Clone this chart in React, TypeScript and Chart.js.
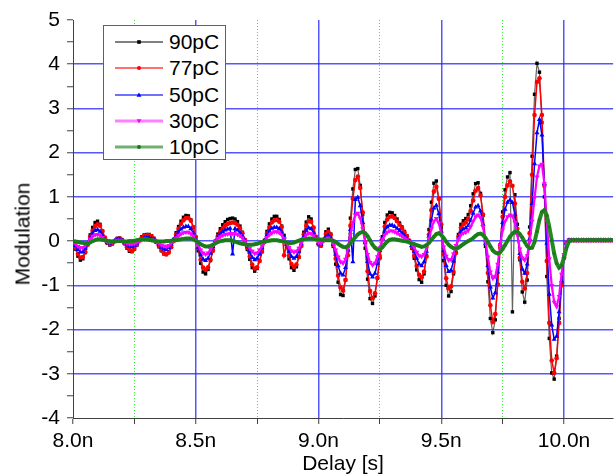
import React, { useEffect, useRef } from 'react';
import { Chart, registerables } from 'chart.js';

Chart.register(...registerables);

// Delay in ns (x axis)
const delayNs: number[] = [
  8.00, 8.01, 8.02, 8.03, 8.04, 8.05, 8.06, 8.07, 8.08, 8.09,
  8.10, 8.11, 8.12, 8.13, 8.14, 8.15, 8.16, 8.17, 8.18, 8.19,
  8.20, 8.21, 8.22, 8.23, 8.24, 8.25, 8.26, 8.27, 8.28, 8.29,
  8.30, 8.31, 8.32, 8.33, 8.34, 8.35, 8.36, 8.37, 8.38, 8.39,
  8.40, 8.41, 8.42, 8.43, 8.44, 8.45, 8.46, 8.47, 8.48, 8.49,
  8.50, 8.51, 8.52, 8.53, 8.54, 8.55, 8.56, 8.57, 8.58, 8.59,
  8.60, 8.61, 8.62, 8.63, 8.64, 8.65, 8.66, 8.67, 8.68, 8.69,
  8.70, 8.71, 8.72, 8.73, 8.74, 8.75, 8.76, 8.77, 8.78, 8.79,
  8.80, 8.81, 8.82, 8.83, 8.84, 8.85, 8.86, 8.87, 8.88, 8.89,
  8.90, 8.91, 8.92, 8.93, 8.94, 8.95, 8.96, 8.97, 8.98, 8.99,
  9.00, 9.01, 9.02, 9.03, 9.04, 9.05, 9.06, 9.07, 9.08, 9.09,
  9.10, 9.11, 9.12, 9.13, 9.14, 9.15, 9.16, 9.17, 9.18, 9.19,
  9.20, 9.21, 9.22, 9.23, 9.24, 9.25, 9.26, 9.27, 9.28, 9.29,
  9.30, 9.31, 9.32, 9.33, 9.34, 9.35, 9.36, 9.37, 9.38, 9.39,
  9.40, 9.41, 9.42, 9.43, 9.44, 9.45, 9.46, 9.47, 9.48, 9.49,
  9.50, 9.51, 9.52, 9.53, 9.54, 9.55, 9.56, 9.57, 9.58, 9.59,
  9.60, 9.61, 9.62, 9.63, 9.64, 9.65, 9.66, 9.67, 9.68, 9.69,
  9.70, 9.71, 9.72, 9.73, 9.74, 9.75, 9.76, 9.77, 9.78, 9.79,
  9.80, 9.81, 9.82, 9.83, 9.84, 9.85, 9.86, 9.87, 9.88, 9.89,
  9.90, 9.91, 9.92, 9.93, 9.94, 9.95, 9.96, 9.97, 9.98, 9.99,
  10.00, 10.01, 10.02, 10.03, 10.04, 10.05, 10.06, 10.07, 10.08, 10.09,
  10.10, 10.11, 10.12, 10.13, 10.14, 10.15, 10.16, 10.17, 10.18, 10.19,
  10.20,
];

const mod90pC: number[] = [
  -0.05, -0.18, -0.34, -0.43, -0.40, -0.26, -0.06, 0.14, 0.31, 0.42,
  0.45, 0.38, 0.22, 0.06, -0.05, -0.09, -0.06, 0.01, 0.06, 0.07,
  0.03, -0.06, -0.16, -0.23, -0.24, -0.18, -0.08, 0.03, 0.10, 0.14,
  0.15, 0.15, 0.12, 0.06, -0.03, -0.13, -0.22, -0.29, -0.30, -0.24,
  -0.11, 0.04, 0.19, 0.33, 0.45, 0.54, 0.58, 0.57, 0.48, 0.31,
  0.07, -0.22, -0.50, -0.70, -0.74, -0.64, -0.44, -0.21, 0.00, 0.16,
  0.28, 0.37, 0.44, 0.49, 0.51, 0.52, 0.50, 0.44, 0.34, 0.20,
  0.02, -0.19, -0.41, -0.60, -0.68, -0.62, -0.45, -0.22, 0.02, 0.22,
  0.39, 0.50, 0.56, 0.56, 0.49, 0.34, 0.13, -0.13, -0.40, -0.60,
  -0.66, -0.58, -0.37, -0.09, 0.20, 0.43, 0.55, 0.50, 0.31, 0.08,
  -0.08, -0.11, 0.04, 0.21, 0.27, 0.16, -0.12, -0.52, -0.93, -1.21,
  -1.23, -0.88, -0.22, 0.52, 1.18, 1.62, 1.64, 1.26, 0.60, -0.16,
  -0.86, -1.30, -1.41, -1.24, -0.84, -0.34, 0.10, 0.42, 0.59, 0.65,
  0.64, 0.58, 0.50, 0.41, 0.32, 0.22, 0.12, 0.00, -0.16, -0.39,
  -0.65, -0.87, -0.93, -0.74, -0.33, 0.26, 0.88, 1.31, 1.36, 0.96,
  0.30, -0.44, -1.00, -1.24, -1.14, -0.74, -0.25, 0.15, 0.38, 0.46,
  0.51, 0.60, 0.80, 1.07, 1.30, 1.32, 1.08, 0.58, -0.12, -0.92,
  -1.75, -2.07, -1.78, -0.98, -0.08, 0.66, 1.16, 1.45, 1.55, -1.60,
  1.05, 0.38, -0.42, -1.15, -1.38, -0.88, 0.32, 1.92, 3.32, 4.02,
  3.82, 2.68, 1.00, -0.80, -2.20, -2.98, -3.12, -2.60, -1.75, -0.95,
  -0.35, -0.04, 0.02, 0.02, 0.02, 0.02, 0.02, 0.02, 0.02, 0.02,
  0.02, 0.02, 0.02, 0.02, 0.02, 0.02, 0.02, 0.02, 0.02, 0.02,
  0.02,
];

const mod77pC: number[] = [
  -0.04, -0.15, -0.29, -0.37, -0.36, -0.25, -0.08, 0.10, 0.24, 0.34,
  0.38, 0.35, 0.23, 0.08, -0.03, -0.07, -0.06, 0.00, 0.05, 0.06,
  0.03, -0.05, -0.14, -0.20, -0.22, -0.18, -0.09, 0.01, 0.08, 0.12,
  0.13, 0.13, 0.11, 0.06, -0.02, -0.11, -0.20, -0.27, -0.30, -0.26,
  -0.14, 0.00, 0.15, 0.28, 0.39, 0.47, 0.52, 0.52, 0.46, 0.32,
  0.10, -0.16, -0.42, -0.60, -0.65, -0.59, -0.42, -0.22, -0.03, 0.11,
  0.21, 0.29, 0.35, 0.39, 0.41, 0.42, 0.41, 0.37, 0.29, 0.18,
  0.03, -0.15, -0.35, -0.53, -0.62, -0.59, -0.45, -0.24, -0.02, 0.17,
  0.32, 0.42, 0.47, 0.48, 0.44, 0.32, -0.32, -0.09, -0.33, -0.52,
  -0.58, -0.53, -0.36, -0.11, 0.15, 0.35, 0.45, 0.44, 0.30, 0.10,
  -0.06, -0.10, 0.02, 0.16, 0.21, 0.14, -0.08, -0.40, -0.78, -1.05,
  -1.12, -0.88, -0.32, 0.35, 0.96, 1.38, 1.46, 1.20, 0.65, -0.02,
  -0.68, -1.13, -1.29, -1.18, -0.83, -0.38, 0.04, 0.33, 0.49, 0.55,
  0.56, 0.52, 0.45, 0.37, 0.29, 0.20, 0.11, 0.01, -0.13, -0.33,
  -0.56, -0.76, -0.82, -0.69, -0.35, 0.15, 0.70, 1.12, 1.23, 0.96,
  0.38, -0.30, -0.84, -1.07, -1.02, -0.70, -0.27, 0.10, 0.30, 0.38,
  0.42, 0.50, 0.68, 0.92, 1.14, 1.20, 1.03, 0.60, 0.00, -0.72,
  -1.45, -1.83, -1.65, -0.98, -0.15, 0.55, 1.00, 1.26, 1.35, 1.25,
  0.85, 0.28, -0.38, -0.92, -1.07, -0.72, 0.18, 1.50, 2.85, 3.60,
  3.68, 2.85, 1.25, -0.45, -1.85, -2.70, -2.98, -2.65, -1.85, -1.00,
  -0.38, -0.05, 0.02, 0.02, 0.02, 0.02, 0.02, 0.02, 0.02, 0.02,
  0.02, 0.02, 0.02, 0.02, 0.02, 0.02, 0.02, 0.02, 0.02, 0.02,
  0.02,
];

const mod50pC: number[] = [
  -0.02, -0.10, -0.19, -0.25, -0.24, -0.16, -0.04, 0.08, 0.18, 0.24,
  0.26, 0.22, 0.13, 0.03, -0.03, -0.05, -0.03, 0.01, 0.04, 0.04,
  0.01, -0.04, -0.09, -0.12, -0.13, -0.10, -0.05, 0.01, 0.05, 0.07,
  0.08, 0.08, 0.06, 0.03, -0.02, -0.08, -0.14, -0.18, -0.19, -0.15,
  -0.07, 0.03, 0.12, 0.20, 0.27, 0.31, 0.33, 0.33, 0.28, 0.18,
  0.04, -0.14, -0.31, -0.41, -0.44, -0.39, -0.27, -0.13, 0.00, 0.09,
  0.16, 0.21, 0.25, 0.27, 0.29, -0.29, 0.28, 0.25, 0.19, 0.11,
  0.01, -0.11, -0.25, -0.37, -0.42, -0.39, -0.29, -0.15, 0.00, 0.13,
  0.23, 0.29, 0.31, 0.31, 0.28, 0.20, 0.08, -0.07, -0.23, -0.35,
  -0.39, -0.35, -0.23, -0.06, 0.11, 0.24, 0.30, 0.28, 0.18, 0.05,
  -0.05, -0.07, 0.02, 0.10, 0.13, 0.08, -0.07, -0.30, -0.56, -0.73,
  -0.77, -0.60, -0.20, 0.26, -0.47, 0.94, 0.99, 0.80, 0.42, -0.04,
  -0.46, -0.74, -0.81, -0.73, -0.50, -0.21, 0.06, 0.23, 0.32, 0.36,
  0.36, 0.33, 0.29, 0.24, 0.18, 0.12, 0.06, -0.01, -0.10, -0.23,
  -0.39, -0.52, -0.56, -0.47, -0.23, 0.11, 0.48, 0.75, 0.81, 0.62,
  0.22, -0.22, -0.55, -0.69, -0.66, -0.45, -0.16, 0.07, 0.21, 0.27,
  0.30, 0.35, 0.47, 0.63, 0.77, 0.80, 0.68, 0.38, -0.05, -0.55,
  -1.04, -1.29, -1.17, -0.70, -0.08, 0.42, 0.72, 0.88, 0.93, 0.87,
  0.60, 0.18, -0.28, -0.63, -0.73, -0.52, 0.05, 0.85, 1.75, 2.45,
  2.75, 2.40, 1.30, -0.05, -1.20, -1.90, -2.22, -2.15, -1.60, -0.90,
  -0.35, -0.05, 0.02, 0.02, 0.02, 0.02, 0.02, 0.02, 0.02, 0.02,
  0.02, 0.02, 0.02, 0.02, 0.02, 0.02, 0.02, 0.02, 0.02, 0.02,
  0.02,
];

const mod30pC: number[] = [
  -0.01, -0.06, -0.12, -0.15, -0.15, -0.10, -0.03, 0.05, 0.11, 0.14,
  0.15, 0.13, 0.08, 0.02, -0.02, -0.03, -0.02, 0.00, 0.02, 0.02,
  0.00, -0.03, -0.05, -0.07, -0.07, -0.06, -0.03, 0.00, 0.03, 0.04,
  0.04, 0.04, 0.03, 0.01, -0.02, -0.05, -0.09, -0.11, -0.12, -0.10,
  -0.05, 0.01, 0.07, 0.12, 0.16, 0.19, 0.20, 0.20, 0.17, 0.11,
  0.02, -0.09, -0.20, -0.27, -0.30, -0.27, -0.19, -0.09, 0.00, 0.06,
  0.10, 0.13, 0.15, 0.16, 0.17, 0.17, 0.17, 0.15, 0.12, 0.07,
  0.00, -0.08, -0.16, -0.23, -0.28, -0.27, -0.20, -0.11, -0.01, 0.08,
  0.14, 0.18, 0.21, 0.21, 0.19, 0.14, 0.06, -0.04, -0.14, -0.22,
  -0.25, -0.23, -0.16, -0.05, 0.06, 0.14, 0.18, 0.17, 0.12, 0.04,
  -0.03, -0.05, 0.00, 0.05, 0.07, 0.04, -0.05, -0.20, -0.36, -0.47,
  -0.50, -0.41, -0.16, 0.15, 0.42, 0.59, 0.63, 0.52, 0.28, -0.02,
  -0.30, -0.48, -0.54, -0.50, -0.35, -0.15, 0.03, 0.14, 0.20, 0.23,
  0.23, 0.21, 0.18, 0.15, 0.11, 0.07, 0.03, -0.01, -0.07, -0.15,
  -0.25, -0.33, -0.35, -0.30, -0.16, 0.05, 0.28, 0.45, 0.51, 0.41,
  0.16, -0.13, -0.34, -0.43, -0.42, -0.29, -0.10, 0.05, 0.14, 0.18,
  0.20, 0.24, 0.33, 0.45, 0.55, 0.59, 0.53, 0.32, 0.00, -0.36,
  -0.70, -0.84, -0.80, -0.52, -0.10, 0.25, 0.45, 0.55, 0.59, 0.57,
  0.42, 0.14, -0.18, -0.38, -0.43, -0.33, -0.02, 0.45, 0.98, 1.45,
  1.70, 1.74, 1.30, 0.45, -0.40, -1.00, -1.38, -1.48, -1.25, -0.75,
  -0.30, -0.05, 0.02, 0.02, 0.02, 0.02, 0.02, 0.02, 0.02, 0.02,
  0.02, 0.02, 0.02, 0.02, 0.02, 0.02, 0.02, 0.02, 0.02, 0.02,
  0.02,
];

const mod10pC: number[] = [
  0.00, -0.01, -0.02, -0.03, -0.04, -0.05, -0.05, -0.03, 0.00, 0.02,
  0.04, 0.04, 0.03, 0.02, 0.01, 0.00, -0.01, -0.01, 0.00, 0.00,
  0.00, -0.01, -0.01, 0.00, 0.00, 0.01, 0.02, 0.03, 0.04, 0.04,
  0.04, 0.03, 0.02, 0.01, 0.00, -0.01, -0.01, -0.01, 0.00, 0.00,
  0.01, 0.02, 0.02, 0.03, 0.04, 0.05, 0.06, 0.06, 0.06, 0.04,
  0.01, -0.03, -0.07, -0.10, -0.12, -0.12, -0.11, -0.08, -0.05, -0.02,
  0.00, 0.01, 0.02, 0.02, 0.02, 0.01, -0.01, -0.03, -0.05, -0.06,
  -0.07, -0.08, -0.08, -0.08, -0.07, -0.06, -0.04, -0.02, -0.01, 0.00,
  0.01, 0.02, 0.02, 0.02, 0.01, 0.00, -0.01, -0.03, -0.04, -0.04,
  -0.03, -0.01, 0.01, 0.03, 0.04, 0.05, 0.06, 0.06, 0.05, 0.05,
  0.04, 0.03, 0.02, 0.02, 0.02, 0.02, 0.01, -0.02, -0.06, -0.10,
  -0.13, -0.14, -0.11, -0.05, 0.02, 0.09, 0.15, 0.19, 0.21, 0.18,
  0.11, 0.02, -0.08, -0.15, -0.19, -0.19, -0.14, -0.07, -0.01, 0.03,
  0.04, 0.04, 0.03, 0.02, 0.01, 0.00, -0.01, -0.03, -0.05, -0.07,
  -0.09, -0.11, -0.13, -0.12, -0.09, -0.04, 0.03, 0.10, 0.16, 0.18,
  0.14, 0.07, -0.01, -0.08, -0.13, -0.16, -0.17, -0.15, -0.11, -0.07,
  -0.03, 0.00, 0.03, 0.07, 0.12, 0.16, 0.17, 0.14, 0.07, -0.02,
  -0.12, -0.21, -0.26, -0.28, -0.25, -0.18, -0.09, 0.01, 0.10, 0.17,
  0.21, 0.21, 0.16, 0.08, -0.02, -0.11, -0.16, -0.15, -0.02, 0.22,
  0.48, 0.66, 0.70, 0.58, 0.32, 0.02, -0.28, -0.50, -0.60, -0.55,
  -0.38, -0.15, -0.01, 0.02, 0.02, 0.02, 0.02, 0.02, 0.02, 0.02,
  0.02, 0.02, 0.02, 0.02, 0.02, 0.02, 0.02, 0.02, 0.02, 0.02,
  0.02,
];

const seriesLabels: string[] = ['90pC', '77pC', '50pC', '30pC', '10pC'];
const seriesValues: number[][] = [mod90pC, mod77pC, mod50pC, mod30pC, mod10pC];

const xMajorTicks: number[] = [8.0, 8.5, 9.0, 9.5, 10.0];
const xMinorTicks: number[] = [8.25, 8.75, 9.25, 9.75];
const yMajorTicks: number[] = [-4, -3, -2, -1, 0, 1, 2, 3, 4, 5];
const yMinorTicks: number[] = [-3.5, -2.5, -1.5, -0.5, 0.5, 1.5, 2.5, 3.5, 4.5];

const xTitle = 'Delay [s]';
const yTitle = 'Modulation';

const X_MIN = 8.0;
const X_MAX = 10.2;
const Y_MIN = -4;
const Y_MAX = 5;

const FONT = '"Liberation Sans", Arial, Helvetica, sans-serif';
const FONT_SIZE = 21;
const AXIS_COLOR = '#404040';
const GRID_BLUE = 'rgba(30,30,255,0.75)';
const GRID_GREEN = '#30ee30';

type SeriesStyle = {
  line: string;
  lineWidth: number;
  point: string;
  pointStyle: string;
  pointRadius: number;
  rotation: number;
  legendLine: string;
  legendLineWidth: number;
};

const styles: SeriesStyle[] = [
  { line: 'rgba(70,70,70,0.85)', lineWidth: 1.2, point: '#000000', pointStyle: 'rect', pointRadius: 2.4, rotation: 0, legendLine: '#808080', legendLineWidth: 2 },
  { line: '#ff0000', lineWidth: 1.5, point: '#ff0000', pointStyle: 'circle', pointRadius: 2.3, rotation: 0, legendLine: '#ff4040', legendLineWidth: 1.5 },
  { line: '#0000ff', lineWidth: 1.5, point: '#0000ff', pointStyle: 'triangle', pointRadius: 2.9, rotation: 0, legendLine: '#4040ff', legendLineWidth: 1.5 },
  { line: '#ff00ff', lineWidth: 2.2, point: '#ff00ff', pointStyle: 'triangle', pointRadius: 2.9, rotation: 180, legendLine: '#ff80ff', legendLineWidth: 3 },
  { line: '#228b22', lineWidth: 4, point: '#1b7a1b', pointStyle: 'circle', pointRadius: 1.7, rotation: 0, legendLine: '#70b070', legendLineWidth: 3 },
];

function LegendMarker({ idx }: { idx: number }) {
  const s = styles[idx];
  const cx = 24;
  const cy = 6;
  let marker: React.ReactNode = null;
  if (idx === 0) marker = <rect x={cx - 1.8} y={cy - 1.8} width={3.6} height={3.6} fill={s.point} />;
  else if (idx === 1) marker = <circle cx={cx} cy={cy} r={2} fill={s.point} />;
  else if (idx === 2) marker = <polygon points={`${cx},${cy - 2.4} ${cx + 2.4},${cy + 1.8} ${cx - 2.4},${cy + 1.8}`} fill={s.point} />;
  else if (idx === 3) marker = <polygon points={`${cx},${cy + 2.4} ${cx + 2.4},${cy - 1.8} ${cx - 2.4},${cy - 1.8}`} fill={s.point} />;
  else marker = <circle cx={cx} cy={cy} r={2} fill={s.point} />;
  return (
    <svg width={48} height={12} style={{ display: 'block' }}>
      <line x1={0} y1={cy} x2={48} y2={cy} stroke={s.legendLine} strokeWidth={s.legendLineWidth} />
      {marker}
    </svg>
  );
}

function Legend() {
  return (
    <div
      style={{
        position: 'absolute',
        left: 103,
        top: 25,
        width: 123,
        height: 135,
        boxSizing: 'border-box',
        border: '1px solid #606060',
        background: '#ffffff',
        fontFamily: FONT,
      }}
    >
      {seriesLabels.map((label, i) => (
        <div
          key={label}
          style={{
            position: 'absolute',
            left: 11,
            top: 16 + i * 26.3 - 13,
            height: 26,
            display: 'flex',
            alignItems: 'center',
          }}
        >
          <LegendMarker idx={i} />
          <span style={{ marginLeft: 6, fontSize: FONT_SIZE, color: '#000', lineHeight: '26px', whiteSpace: 'nowrap' }}>{label}</span>
        </div>
      ))}
    </div>
  );
}

export default function App() {
  const canvasRef = useRef<HTMLCanvasElement>(null);

  useEffect(() => {
    const canvas = canvasRef.current;
    if (!canvas) return;

    const datasets = seriesLabels.map((label, i) => {
      const s = styles[i];
      return {
        label,
        data: delayNs.map((x, k) => ({ x, y: seriesValues[i][k] })),
        borderColor: s.line,
        borderWidth: s.lineWidth,
        backgroundColor: s.point,
        pointBackgroundColor: s.point,
        pointBorderColor: s.point,
        pointBorderWidth: 0,
        pointStyle: s.pointStyle,
        pointRadius: s.pointRadius,
        pointRotation: s.rotation,
        pointHoverRadius: s.pointRadius,
        tension: 0,
        fill: false,
        order: 5 - i,
      };
    });

    const xTicksAll = [...xMajorTicks, ...xMinorTicks].sort((a, b) => a - b);
    const yTicksAll = [...yMajorTicks, ...yMinorTicks].sort((a, b) => a - b);
    const isXMajor = (v: number) => xMajorTicks.some((m) => Math.abs(m - v) < 1e-9);
    const isYMajor = (v: number) => yMajorTicks.some((m) => Math.abs(m - v) < 1e-9);

    const chart = new Chart(canvas, {
      type: 'line',
      data: { datasets: datasets as any },
      options: {
        animation: false,
        responsive: false,
        devicePixelRatio: 1,
        parsing: false as any,
        layout: { padding: { left: 0, top: 20, right: 0, bottom: 0 } },
        plugins: {
          legend: { display: false },
          tooltip: { enabled: false },
        },
        scales: {
          x: {
            type: 'linear',
            min: X_MIN,
            max: X_MAX,
            afterBuildTicks: (scale: any) => {
              scale.ticks = xTicksAll.map((v) => ({ value: v }));
            },
            afterFit: (scale: any) => {
              scale.height = 57;
            },
            ticks: {
              autoSkip: false,
              maxRotation: 0,
              minRotation: 0,
              padding: 5,
              color: '#000',
              font: { family: FONT, size: FONT_SIZE },
              callback: (v: any) => (isXMajor(Number(v)) ? `${Number(v).toFixed(1)}n` : ''),
            },
            grid: {
              drawOnChartArea: true,
              drawTicks: true,
              tickLength: 6,
              tickWidth: 1,
              tickColor: AXIS_COLOR,
              color: (ctx: any) => {
                const v = ctx.tick ? ctx.tick.value : NaN;
                if (Math.abs(v - X_MIN) < 1e-9) return 'rgba(0,0,0,0)';
                return isXMajor(v) ? GRID_BLUE : GRID_GREEN;
              },
              lineWidth: (ctx: any) => {
                const v = ctx.tick ? ctx.tick.value : NaN;
                return isXMajor(v) ? 1.5 : 1;
              },
            },
            border: {
              display: true,
              color: AXIS_COLOR,
              width: 1,
              dash: (ctx: any) => {
                if (!ctx.tick) return [];
                return isXMajor(ctx.tick.value) ? [] : [1, 2];
              },
            } as any,
            title: {
              display: true,
              text: xTitle,
              color: '#000',
              font: { family: FONT, size: FONT_SIZE, lineHeight: 1 },
              padding: { top: 0, bottom: 0 },
            },
          },
          y: {
            type: 'linear',
            min: Y_MIN,
            max: Y_MAX,
            afterBuildTicks: (scale: any) => {
              scale.ticks = yTicksAll.map((v) => ({ value: v }));
            },
            afterFit: (scale: any) => {
              scale.width = 73;
            },
            ticks: {
              autoSkip: false,
              padding: 7,
              color: '#000',
              font: { family: FONT, size: FONT_SIZE },
              callback: (v: any) => (isYMajor(Number(v)) ? String(Number(v)) : ''),
            },
            grid: {
              drawOnChartArea: true,
              drawTicks: true,
              tickLength: 6,
              tickWidth: 1,
              tickColor: AXIS_COLOR,
              color: (ctx: any) => {
                const v = ctx.tick ? ctx.tick.value : NaN;
                if (isYMajor(v) && v > Y_MIN && v < Y_MAX) return GRID_BLUE;
                return 'rgba(0,0,0,0)';
              },
              lineWidth: 1.5,
            },
            border: { display: true, color: AXIS_COLOR, width: 1 },
            title: { display: false },
          },
        },
      } as any,
    });

    return () => {
      chart.destroy();
    };
  }, []);

  return (
    <div style={{ position: 'absolute', left: 0, top: 0, width: 616, height: 475, background: '#ffffff', overflow: 'hidden' }}>
      <canvas ref={canvasRef} width={616} height={475} style={{ display: 'block', width: 616, height: 475 }} />
      <div
        style={{
          position: 'absolute',
          left: 22,
          top: 234,
          transform: 'translate(-50%, -50%) rotate(-90deg)',
          fontFamily: FONT,
          fontSize: FONT_SIZE,
          color: '#000',
          whiteSpace: 'nowrap',
          lineHeight: 1,
        }}
      >
        {yTitle}
      </div>
      <Legend />
    </div>
  );
}
